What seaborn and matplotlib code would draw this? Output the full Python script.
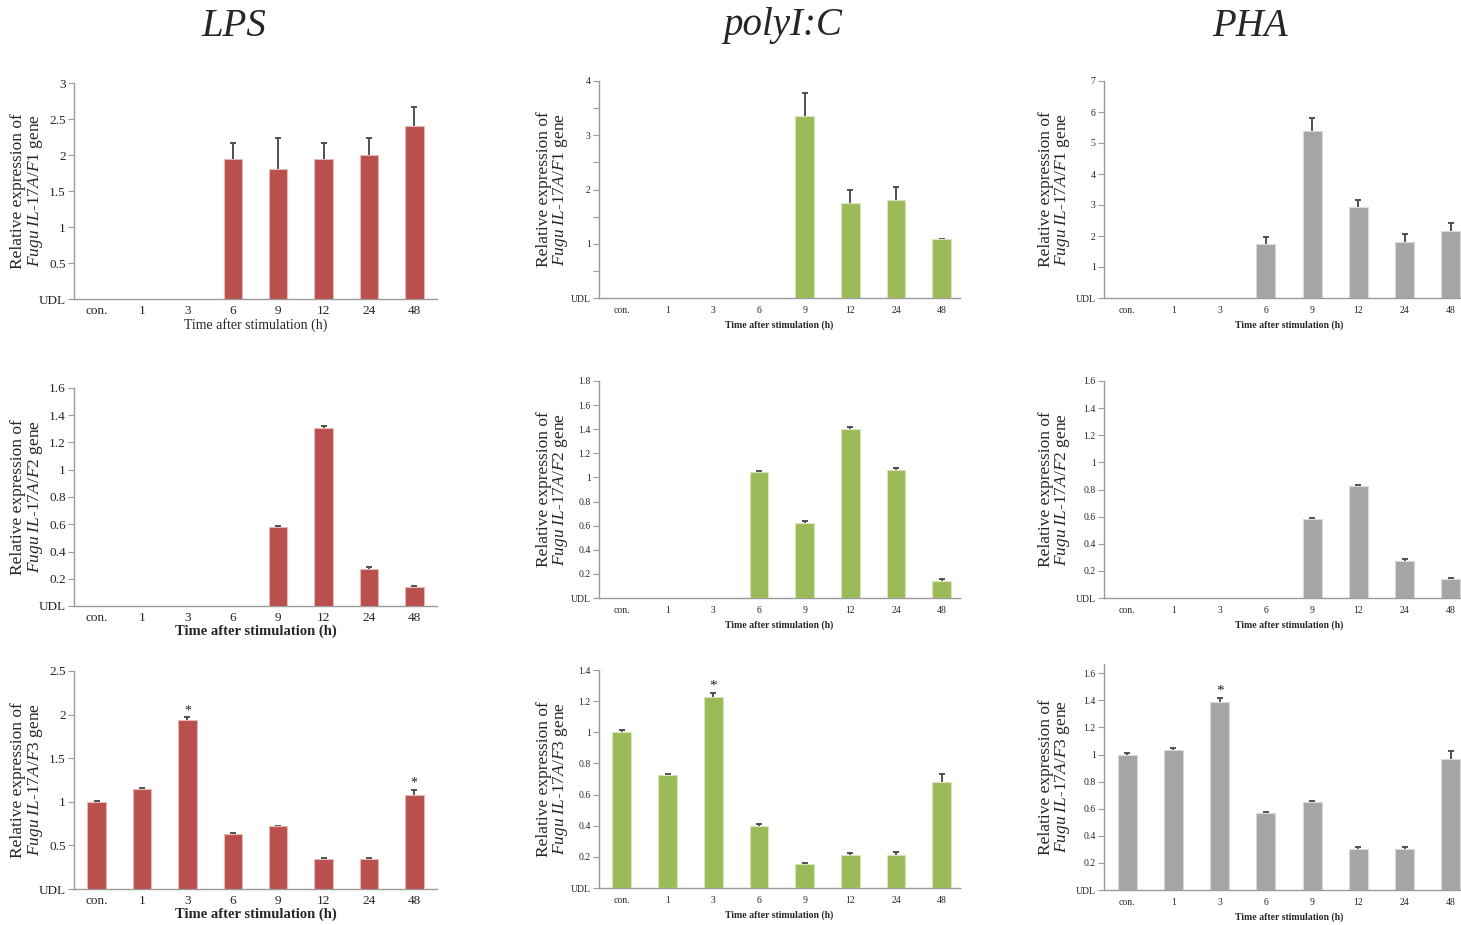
import numpy as np
import pandas as pd
import matplotlib
matplotlib.use("Agg")
import matplotlib.pyplot as plt
import seaborn as sns

# ---------------- data ----------------
categories = ["con.", "1", "3", "6", "9", "12", "24", "48"]
nan = np.nan

lps_f1_mean = [nan, nan, nan, 1.94, 1.80, 1.94, 2.00, 2.40]
lps_f1_se = [nan, nan, nan, 0.23, 0.44, 0.23, 0.24, 0.27]
poly_f1_mean = [nan, nan, nan, nan, 3.35, 1.75, 1.80, 1.08]
poly_f1_se = [nan, nan, nan, nan, 0.42, 0.24, 0.25, 0.012]
pha_f1_mean = [nan, nan, nan, 1.75, 5.40, 2.92, 1.80, 2.15]
pha_f1_se = [nan, nan, nan, 0.23, 0.40, 0.23, 0.25, 0.28]

lps_f2_mean = [nan, nan, nan, nan, 0.58, 1.31, 0.27, 0.14]
lps_f2_se = [nan, nan, nan, nan, 0.01, 0.01, 0.015, 0.01]
poly_f2_mean = [nan, nan, nan, 1.045, 0.625, 1.405, 1.06, 0.145]
poly_f2_se = [nan, nan, nan, 0.01, 0.01, 0.01, 0.015, 0.015]
pha_f2_mean = [nan, nan, nan, nan, 0.585, 0.825, 0.275, 0.14]
pha_f2_se = [nan, nan, nan, nan, 0.008, 0.01, 0.015, 0.008]

lps_f3_mean = [1.0, 1.15, 1.94, 0.63, 0.72, 0.34, 0.345, 1.08]
lps_f3_se = [0.008, 0.01, 0.03, 0.008, 0.008, 0.01, 0.01, 0.06]
poly_f3_mean = [1.0, 0.725, 1.225, 0.40, 0.155, 0.215, 0.215, 0.68]
poly_f3_se = [0.015, 0.01, 0.03, 0.008, 0.008, 0.012, 0.015, 0.055]
pha_f3_mean = [1.0, 1.035, 1.385, 0.565, 0.65, 0.30, 0.305, 0.97]
pha_f3_se = [0.01, 0.01, 0.035, 0.01, 0.01, 0.015, 0.015, 0.055]

lps_f3_sig = ["3", "48"]
poly_f3_sig = ["3"]
pha_f3_sig = ["3"]

stimuli = ["LPS", "polyI:C", "PHA"]
genes = ["F1", "F2", "F3"]
colors = {"LPS": "#B9504D", "polyI:C": "#9BBB59", "PHA": "#A5A5A5"}
edge_colors = {"LPS": "#E6B9B8", "polyI:C": "#D7E4BD", "PHA": "#D9D9D9"}

# ---------------- style ----------------
sns.set_theme(style="white")
plt.rcParams["font.family"] = ["Liberation Serif", "DejaVu Serif"]
plt.rcParams["mathtext.fontset"] = "custom"
plt.rcParams["mathtext.rm"] = "Liberation Serif"
plt.rcParams["mathtext.it"] = "Liberation Serif:italic"

W, H = 1461, 925
fig = plt.figure(figsize=(W / 100, H / 100), dpi=100)

panels = {
    ("LPS", "F1"): (lps_f1_mean, lps_f1_se, [], 3.0, 0.5, None),
    ("polyI:C", "F1"): (poly_f1_mean, poly_f1_se, [], 4.0, 1.0, 0.5),
    ("PHA", "F1"): (pha_f1_mean, pha_f1_se, [], 7.0, 1.0, None),
    ("LPS", "F2"): (lps_f2_mean, lps_f2_se, [], 1.6, 0.2, None),
    ("polyI:C", "F2"): (poly_f2_mean, poly_f2_se, [], 1.8, 0.2, None),
    ("PHA", "F2"): (pha_f2_mean, pha_f2_se, [], 1.6, 0.2, None),
    ("LPS", "F3"): (lps_f3_mean, lps_f3_se, lps_f3_sig, 2.5, 0.5, None),
    ("polyI:C", "F3"): (poly_f3_mean, poly_f3_se, poly_f3_sig, 1.4, 0.2, None),
    ("PHA", "F3"): (pha_f3_mean, pha_f3_se, pha_f3_sig, 1.668, 0.2, None),
}

# layout in pixels: (left, right, xmax)
col_geom = {"LPS": (74, 437, 7.5), "polyI:C": (599, 960, 7.4), "PHA": (1104, 1474, 7.5)}
row_geom = {
    ("LPS", "F1"): (83, 299), ("polyI:C", "F1"): (81, 298), ("PHA", "F1"): (81, 298),
    ("LPS", "F2"): (388, 606), ("polyI:C", "F2"): (381, 598), ("PHA", "F2"): (381, 598),
    ("LPS", "F3"): (671, 889), ("polyI:C", "F3"): (670, 888), ("PHA", "F3"): (664, 890),
}
ylabel_x = {"LPS": 28, "polyI:C": 553, "PHA": 1055}
title_x = {"LPS": 234, "polyI:C": 783, "PHA": 1250}

for stim in stimuli:
    for gene in genes:
        mean, se, sig, ymax, step, minor = panels[(stim, gene)]
        left, right, xmax = col_geom[stim]
        top, bottom = row_geom[(stim, gene)]
        ax = fig.add_axes([left / W, 1 - bottom / H, (right - left) / W, (bottom - top) / H])
        df = pd.DataFrame({"time": categories, "value": mean, "se": se})
        sns.barplot(data=df.dropna(), x="time", y="value", order=categories,
                    color=colors[stim], saturation=1, width=0.41,
                    edgecolor=edge_colors[stim], linewidth=0.8, errorbar=None, ax=ax)
        for p in ax.patches:
            p.set_zorder(4)
        pos = np.arange(len(categories))
        m = np.array(mean, dtype=float)
        s = np.array(se, dtype=float)
        ok = ~np.isnan(m)
        # symmetric bars drawn behind the bars so only the upper half shows
        ax.errorbar(pos[ok], m[ok], yerr=s[ok], fmt="none",
                    ecolor="#505050", elinewidth=1.4, capsize=2.5, capthick=1.4, zorder=2)
        for c in sig:
            i = categories.index(c)
            ax.annotate("*", (i, m[i] + s[i]), xytext=(0, 0), textcoords="offset points",
                        ha="center", va="bottom", fontsize=11 if stim != "LPS" else 10,
                        color="#222222")
        ax.set_xlim(-0.5, xmax)
        ax.set_ylim(0, ymax)
        ticks = np.round(np.arange(0, ymax + 1e-6, step), 3)
        ax.set_yticks(ticks)
        labels = ["UDL"] + [("%g" % t) for t in ticks[1:]]
        tfs = 9.5 if stim == "LPS" else 7
        ax.set_yticklabels(labels, fontsize=tfs)
        if minor:
            ax.set_yticks(np.arange(0, ymax + 1e-6, minor), minor=True)
            ax.tick_params(axis="y", which="minor", length=4, width=0.8, color="#9a9a9a",
                           direction="out", left=True)
        ax.set_xticks(pos)
        ax.set_xticklabels(categories, fontsize=tfs)
        ax.tick_params(axis="y", which="major", length=4, width=0.8, color="#9a9a9a",
                       direction="out", left=True, pad=2)
        ax.tick_params(axis="x", length=0, pad=4 if stim == "LPS" else 6)
        for sp in ["top", "right"]:
            ax.spines[sp].set_visible(False)
        for sp in ["left", "bottom"]:
            ax.spines[sp].set_color("#9a9a9a")
            ax.spines[sp].set_linewidth(1.0)
        if stim == "LPS":
            xl_fs = 10 if gene == "F1" else 10.5
            xl_w = "normal" if gene == "F1" else "bold"
            lp = 1
        else:
            xl_fs = 7
            xl_w = "bold"
            lp = 4
        ax.set_xlabel("Time after stimulation (h)", fontsize=xl_fs, fontweight=xl_w, labelpad=lp)
        ax.set_ylabel("")
        yl = "Relative expression of\n$\\mathit{Fugu\\ IL}$-$\\mathit{17A/" + gene + "}$ gene"
        fig.text(ylabel_x[stim] / W, 1 - (top + bottom) / 2 / H, yl, rotation=90,
                 ha="center", va="center", fontsize=12.5, linespacing=1.0)

for stim in stimuli:
    fig.text(title_x[stim] / W, 1 - 26 / H, stim, fontsize=28, style="italic",
             ha="center", va="center")

fig.savefig("out.png", dpi=100)
